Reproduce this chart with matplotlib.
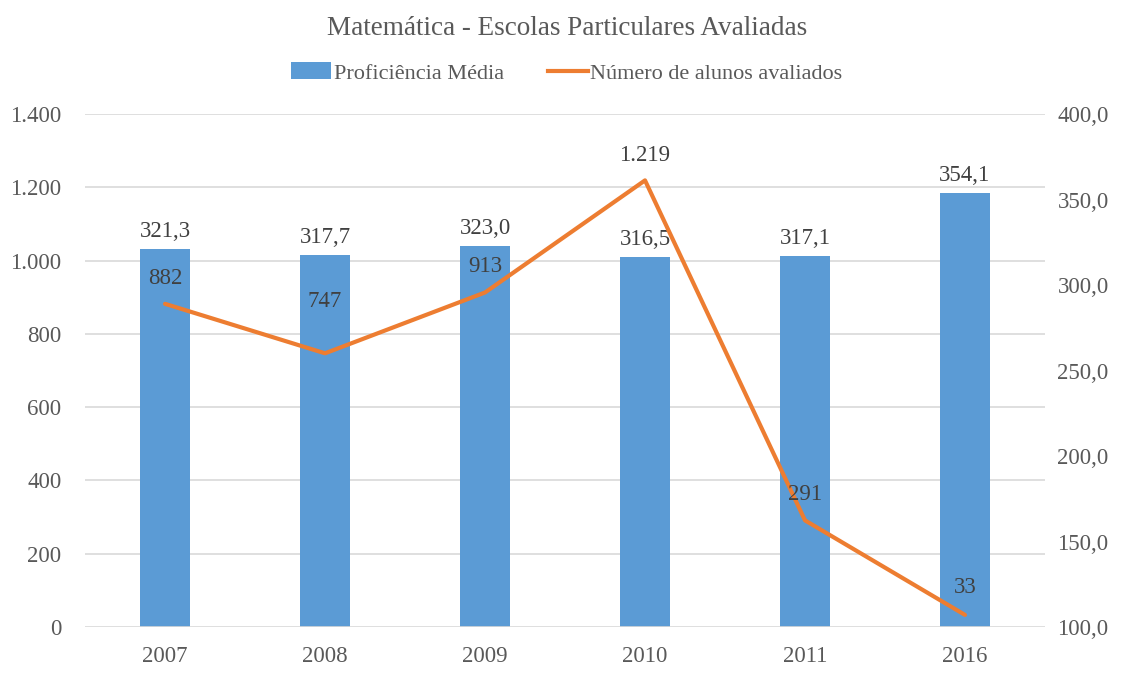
import matplotlib.pyplot as plt
import numpy as np
from matplotlib.ticker import FuncFormatter
from matplotlib.patches import Patch
from matplotlib.lines import Line2D

# ================================================================
# Data
# ================================================================

anos = ['2007', '2008', '2009', '2010', '2011', '2016']
proficiencia = [321.3, 317.7, 323.0, 316.5, 317.1, 354.1]
alunos = [882, 747, 913, 1219, 291, 33]

# label offsets for line labels (points above the marker)
alunos_off = [11, 30, 11, 10, 11, 12]

BAR_COLOR = '#5B9BD5'
LINE_COLOR = '#ED7D31'
TEXT_COLOR = '#595959'
LABEL_COLOR = '#404040'
GRID_COLOR = '#D9D9D9'

FS = 16.5

plt.rcParams['font.family'] = ['Liberation Serif', 'DejaVu Serif']


def fmt_milhar(v, pos=None):
    return f'{int(round(v)):,}'.replace(',', '.')


def fmt_decimal(v, pos=None):
    return f'{v:.1f}'.replace('.', ',')


fig = plt.figure(figsize=(11.34, 6.83), dpi=100)
ax = fig.add_axes([0.075, 0.082, 0.8465, 0.751])
ax2 = ax.twinx()

x = np.arange(len(anos))

# bars on the secondary axis (100 - 400)
ax2.bar(x, [v - 100 for v in proficiencia], bottom=100, width=0.31,
        color=BAR_COLOR, zorder=2)
ax2.set_ylim(100, 400)
ax2.set_yticks(np.arange(100, 401, 50))
ax2.yaxis.set_major_formatter(FuncFormatter(fmt_decimal))

for xi, v in zip(x, proficiencia):
    ax2.annotate(fmt_decimal(v), (xi, v), xytext=(0, 5),
                 textcoords='offset points', ha='center', va='bottom',
                 fontsize=FS, color=LABEL_COLOR)

# line on the primary axis, drawn above the bars
ax.set_zorder(ax2.get_zorder() + 1)
ax.patch.set_visible(False)
ax.plot(x, alunos, color=LINE_COLOR, linewidth=3, zorder=3,
        solid_capstyle='round')
ax.set_ylim(0, 1400)
ax.set_yticks(np.arange(0, 1401, 200))
ax.yaxis.set_major_formatter(FuncFormatter(fmt_milhar))
ax.set_xlim(-0.5, len(anos) - 0.5)
ax.set_xticks(x)
ax.set_xticklabels(anos)

for xi, v, off in zip(x, alunos, alunos_off):
    ax.annotate(fmt_milhar(v), (xi, v), xytext=(0, off),
                textcoords='offset points', ha='center', va='bottom',
                fontsize=FS, color=LABEL_COLOR)

# gridlines
for yv in np.arange(200, 1401, 200):
    ax2.axhline(yv * 300 / 1400 + 100, color=GRID_COLOR, linewidth=1.2,
                zorder=0)
ax.axhline(0, color=GRID_COLOR, linewidth=1.2, zorder=1)

for a in (ax, ax2):
    for s in a.spines.values():
        s.set_visible(False)
    a.tick_params(length=0, labelsize=FS, colors=TEXT_COLOR)
ax.tick_params(axis='y', pad=17)
ax2.tick_params(axis='y', pad=9)
ax.tick_params(axis='x', pad=14)

# title and legend
fig.text(0.5, 0.958, 'Matemática - Escolas Particulares Avaliadas',
         ha='center', va='center', fontsize=19.5, color=TEXT_COLOR)

handles = [Patch(facecolor=BAR_COLOR), Line2D([0], [0], color=LINE_COLOR, lw=3)]
fig.legend(handles, ['Proficiência Média', 'Número de alunos avaliados'],
           loc='center', bbox_to_anchor=(0.5, 0.893), ncol=2, frameon=False,
           fontsize=16, labelcolor=TEXT_COLOR, handlelength=1.8,
           handleheight=0.8, handletextpad=0.1, columnspacing=2.0)

plt.savefig('out.png', dpi=100)
